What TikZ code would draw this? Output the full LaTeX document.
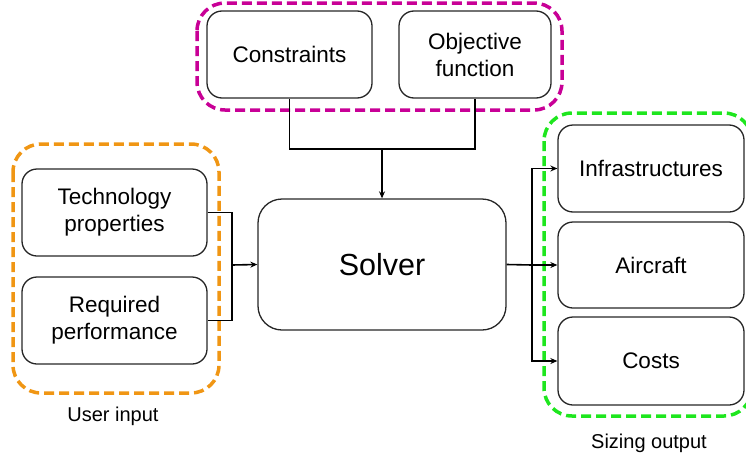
\documentclass[tikz,border=0pt]{standalone}
\usepackage{fontspec}
\setmainfont{Liberation Sans}
\usetikzlibrary{arrows.meta}
\definecolor{magentaD}{RGB}{200,0,150}
\definecolor{orangeD}{RGB}{240,150,20}
\definecolor{greenD}{RGB}{30,230,30}
\begin{document}
\begin{tikzpicture}[x=1pt,y=-1pt,
  box/.style={draw=black!85,line width=1.3pt,rounded corners=15pt,align=center,font=\fontsize{22.5}{27}\selectfont,inner sep=0pt},
  grp/.style={line width=3.5pt,dash pattern=on 10pt off 5pt,rounded corners=28pt},
  conn/.style={line width=1.6pt,black},
  arr/.style={conn,-{Stealth[length=7pt,width=6pt]}},
  lbl/.style={font=\fontsize{20}{24}\selectfont}]
\useasboundingbox (0,0) rectangle (746,458);
% group frames
\draw[grp,magentaD] (197,3) rectangle (562,110);
\draw[grp,orangeD] (13,144) rectangle (219,393);
\draw[grp,greenD] (544,113) rectangle (752,416);
% nodes
\node[box,minimum width=165pt,minimum height=87pt] (con) at (289.5,54.5) {Constraints};
\node[box,minimum width=152pt,minimum height=87pt] (obj) at (475,54.5) {Objective\\function};
\node[box,minimum width=248pt,minimum height=131pt,rounded corners=24pt,font=\fontsize{30.5}{36}\selectfont] (sol) at (382,264.5) {Solver};
\node[box,minimum width=185pt,minimum height=87pt] (tech) at (114.5,212.5) {Technology\\properties};
\node[box,minimum width=185pt,minimum height=87pt] (req) at (114.5,320.5) {Required\\performance};
\node[box,minimum width=186pt,minimum height=87pt] (inf) at (651,168.5) {Infrastructures};
\node[box,minimum width=186pt,minimum height=86pt] (air) at (651,265) {Aircraft};
\node[box,minimum width=186pt,minimum height=88pt] (cost) at (651,361) {Costs};
\node[lbl] (ui) at (113,416) {User input};
\node[lbl] (so) at (649,443) {Sizing output};
% connectors
\coordinate (jt) at (382,149);
\draw[conn] (con.south) |- (jt) -| (obj.south);
\draw[arr] (jt) -- (sol.north);
\coordinate (jl) at (232,265);
\draw[conn] (tech.east) -| (jl) |- (req.east);
\draw[arr] (jl) -- (sol.west);
\coordinate (jr) at (532,265);
\draw[conn] (sol.east) -- (jr);
\draw[arr] (jr) |- (inf.west);
\draw[arr] (jr) -- (air.west);
\draw[arr] (jr) |- (cost.west);
\end{tikzpicture}
\end{document}
